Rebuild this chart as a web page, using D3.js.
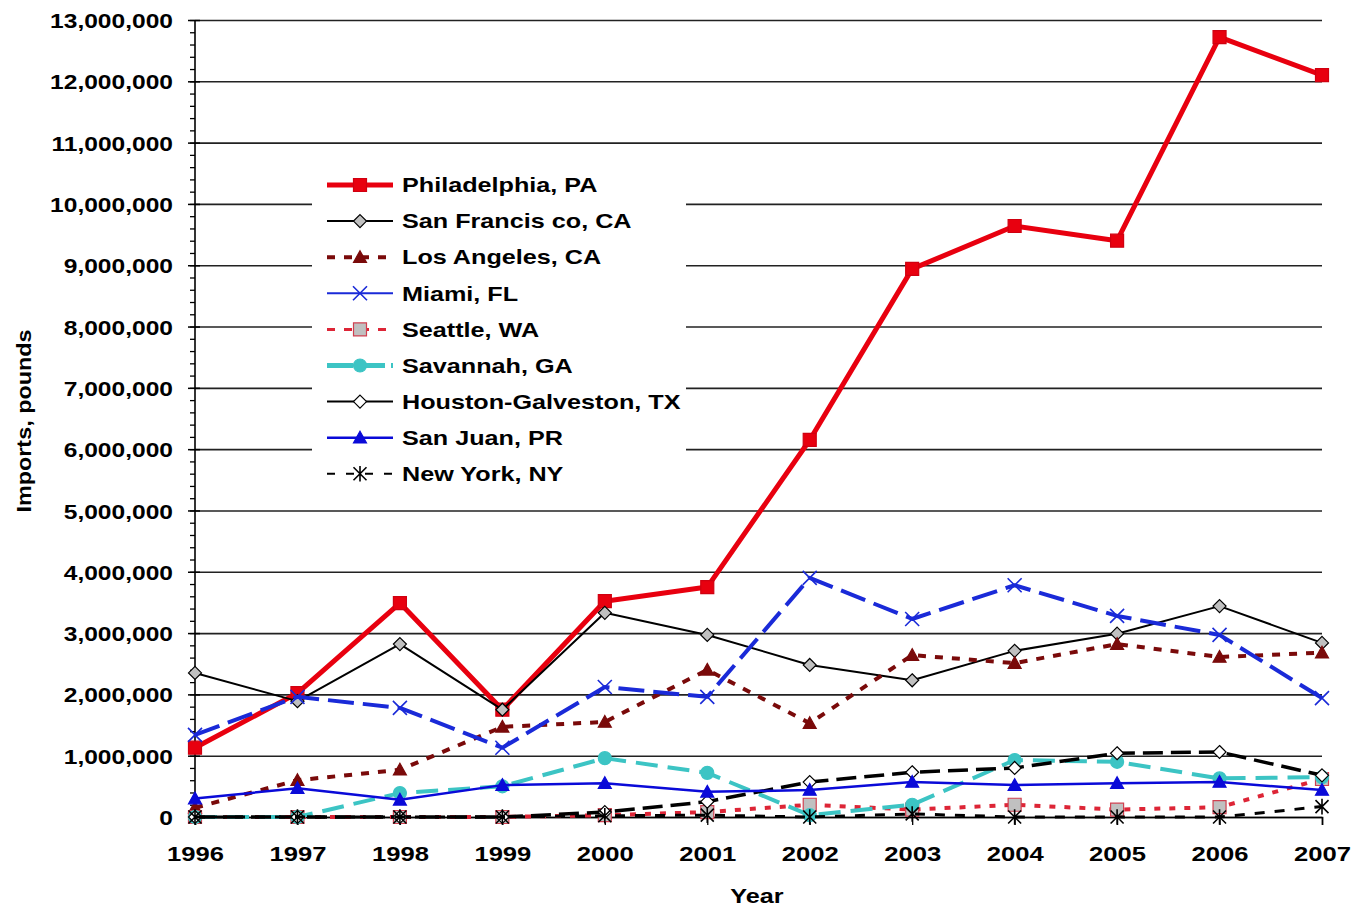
<!DOCTYPE html>
<html lang="en">
<head>
<meta charset="utf-8">
<title>Imports, pounds by port 1996-2007</title>
<script src="https://cdn.jsdelivr.net/npm/d3@7"></script>
<style>
  body { margin: 0; background: #fff; }
  text { font-family: Arial, "Liberation Sans", sans-serif; font-weight: bold; fill: #000; }
</style>
</head>
<body>
<div id="chart"></div>
<script>
// ---- data (pounds) ----
var years = [1996, 1997, 1998, 1999, 2000, 2001, 2002, 2003, 2004, 2005, 2006, 2007];
var names = ["Philadelphia, PA", "San Francis co, CA", "Los Angeles, CA", "Miami, FL", "Seattle, WA",
             "Savannah, GA", "Houston-Galveston, TX", "San Juan, PR", "New York, NY"];
var philadelphia = [1130000, 2020000, 3490000, 1750000, 3520000, 3750000, 6150000, 8940000, 9640000, 9400000, 12720000, 12100000];
var sanFrancisco = [2350000, 1890000, 2820000, 1750000, 3330000, 2970000, 2480000, 2230000, 2710000, 2990000, 3440000, 2840000];
var losAngeles   = [150000, 600000, 770000, 1470000, 1550000, 2400000, 1530000, 2640000, 2510000, 2820000, 2610000, 2680000];
var miami        = [1340000, 1960000, 1780000, 1130000, 2120000, 1960000, 3900000, 3230000, 3780000, 3280000, 2970000, 1940000];
var seattle      = [0, 0, 0, 0, 30000, 80000, 200000, 120000, 200000, 120000, 160000, 620000];
var savannah     = [0, 0, 390000, 500000, 960000, 720000, 30000, 200000, 930000, 900000, 630000, 650000];
var houston      = [0, 0, 0, 0, 80000, 250000, 570000, 730000, 800000, 1040000, 1060000, 680000];
var sanJuan      = [300000, 470000, 280000, 520000, 550000, 410000, 440000, 570000, 520000, 550000, 570000, 440000];
var newYork      = [0, 0, 0, 0, 20000, 30000, 0, 50000, 0, 0, 0, 170000];
var values = [philadelphia, sanFrancisco, losAngeles, miami, seattle, savannah, houston, sanJuan, newYork];
var yTicks = d3.range(0, 13000001, 1000000);
var yMinor = d3.range(0, 13000001, 200000);

// ---- styles ----
var styles = [
  {color: "#e8000f", width: 5,   dash: null,    marker: "square",   fill: "#e8000f", stroke: "#d00010", lw: 5,   ldash: null},
  {color: "#000",    width: 2,   dash: null,    marker: "diamond",  fill: "#c0c0c0", stroke: "#000",    lw: 2,   ldash: null},
  {color: "#7a0a0a", width: 4,   dash: "8,9",   marker: "triangle", fill: "#7a0a0a", stroke: "#7a0a0a", lw: 4,   ldash: "8,9"},
  {color: "#1a2ad8", width: 4,   dash: "26,9",  marker: "x",        fill: "none",    stroke: "#1a2ad8", lw: 2,   ldash: null},
  {color: "#dd2536", width: 4,   dash: "6,9",   marker: "square",   fill: "#c0c0c0", stroke: "#d04050", lw: 3,   ldash: "8,9"},
  {color: "#3cc4c4", width: 4,   dash: "22,10", marker: "circle",   fill: "#3cc4c4", stroke: "#3cc4c4", lw: 5,   ldash: "26,6"},
  {color: "#000",    width: 3.5, dash: "20,8",  marker: "diamond",  fill: "#fff",    stroke: "#000",    lw: 2,   ldash: null},
  {color: "#0a0ad8", width: 2.5, dash: null,    marker: "triangle", fill: "#0a0ad8", stroke: "#0a0ad8", lw: 2.5, ldash: null},
  {color: "#000",    width: 3,   dash: "10,10", marker: "star",     fill: "none",    stroke: "#000",    lw: 2,   ldash: "8,11"}
];

var width = 1352, height = 907;
var svg = d3.select("#chart").append("svg")
  .attr("width", width).attr("height", height);

var x = d3.scalePoint().domain(years).range([195, 1322]);
var y = d3.scaleLinear().domain([0, 13000000]).range([817, 20]);

function stretch(sel, sx) {
  sel.each(function () {
    var t = d3.select(this);
    var tx = +t.attr("x") || 0, ty = +t.attr("y") || 0;
    t.attr("x", 0).attr("y", 0)
      .attr("transform", "translate(" + tx + "," + ty + ") scale(" + sx + ",1)");
  });
}

// gridlines
svg.append("g")
  .attr("transform", "translate(195,0)")
  .call(d3.axisLeft(y).tickValues(yTicks).tickSize(-(1322 - 195)).tickFormat(""))
  .call(function (g) {
    g.select(".domain").remove();
    g.selectAll("line").attr("stroke", "#222").attr("stroke-width", 1.6);
  });

// legend background hides gridlines
svg.append("rect").attr("x", 312).attr("y", 162).attr("width", 374).attr("height", 330).attr("fill", "#fff");

// minor ticks
svg.append("g")
  .attr("transform", "translate(195,0)")
  .call(d3.axisLeft(y).tickValues(yMinor).tickSize(5).tickFormat(""))
  .call(function (g) {
    g.select(".domain").remove();
    g.selectAll("line").attr("stroke", "#000").attr("stroke-width", 1.3);
  });

// major y axis with labels
var yAxis = svg.append("g")
  .attr("transform", "translate(195,0)")
  .call(d3.axisLeft(y).tickValues(yTicks).tickSize(7).tickFormat(d3.format(",")));
yAxis.select(".domain").attr("stroke", "#000").attr("stroke-width", 1.6).attr("d", "M0,20V817");
yAxis.selectAll("line").attr("stroke", "#000").attr("stroke-width", 1.5).attr("x2", -7).attr("x1", 5);
yAxis.selectAll("text")
  .attr("font-size", 21).attr("font-family", null).attr("x", -22).attr("dy", "0.36em");
stretch(yAxis.selectAll("text"), 1.17);

// x axis
var xAxis = svg.append("g")
  .attr("transform", "translate(0,817)")
  .call(d3.axisBottom(x).tickSize(8).tickPadding(10));
xAxis.select(".domain").attr("stroke", "#000").attr("stroke-width", 1.6);
xAxis.selectAll("line").attr("stroke", "#000").attr("stroke-width", 1.3);
xAxis.selectAll("text").attr("font-size", 21).attr("font-family", null).attr("y", 44).attr("dy", null);
stretch(xAxis.selectAll("text"), 1.22);

// axis titles
svg.append("text").attr("x", 757).attr("y", 903).attr("text-anchor", "middle")
  .attr("font-size", 21).attr("transform", "translate(757,903) scale(1.2,1) translate(-757,-903)")
  .text("Year");
svg.append("text").attr("text-anchor", "middle").attr("font-size", 20)
  .attr("transform", "translate(31,421) rotate(-90) scale(1.17,1)")
  .text("Imports, pounds");

// markers
function markerPath(type, s) {
  if (type === "square") return "M" + (-s) + "," + (-s) + "h" + (2 * s) + "v" + (2 * s) + "h" + (-2 * s) + "Z";
  if (type === "diamond") return "M0," + (-s) + "L" + s + ",0L0," + s + "L" + (-s) + ",0Z";
  if (type === "triangle") return "M0," + (-s) + "L" + s + "," + (s * 0.8) + "L" + (-s) + "," + (s * 0.8) + "Z";
  if (type === "x") return "M" + (-s) + "," + (-s) + "L" + s + "," + s + "M" + s + "," + (-s) + "L" + (-s) + "," + s;
  if (type === "star") return "M" + (-s) + "," + (-s) + "L" + s + "," + s + "M" + s + "," + (-s) + "L" + (-s) + "," + s + "M0," + (-s * 1.2) + "V" + (s * 1.2);
  return d3.arc()({innerRadius: 0, outerRadius: s, startAngle: 0, endAngle: 2 * Math.PI});
}
function drawMarker(g, st, cx, cy, s) {
  g.append("path")
    .attr("transform", "translate(" + cx + "," + cy + ")")
    .attr("d", markerPath(st.marker, s))
    .attr("fill", st.fill)
    .attr("stroke", st.stroke)
    .attr("stroke-width", st.marker === "x" || st.marker === "star" ? 1.6 : 1.2);
}

var line = d3.line().x(function (d, i) { return x(years[i]); }).y(function (d) { return y(d); });

var plot = svg.append("g");
values.forEach(function (vals, k) {
  var st = styles[k];
  var g = plot.append("g");
  g.append("path").attr("d", line(vals))
    .attr("fill", "none").attr("stroke", st.color).attr("stroke-width", st.width)
    .attr("stroke-dasharray", st.dash).attr("stroke-linejoin", "round");
  vals.forEach(function (v, i) {
    drawMarker(g, st, x(years[i]), y(v), st.marker === "x" ? 7 : 6.5);
  });
});

// legend
var legend = svg.append("g");
names.forEach(function (name, k) {
  var st = styles[k];
  var ly = 185 + k * 36.1;
  legend.append("line").attr("x1", 327).attr("x2", 393).attr("y1", ly).attr("y2", ly)
    .attr("stroke", st.color).attr("stroke-width", st.lw).attr("stroke-dasharray", st.ldash);
  drawMarker(legend, st, 360, ly, st.marker === "x" ? 7 : 6.5);
  var t = legend.append("text").attr("x", 402).attr("y", ly).attr("dy", "0.36em")
    .attr("font-size", 20).text(name);
  stretch(t, 1.26);
});
</script>
</body>
</html>
